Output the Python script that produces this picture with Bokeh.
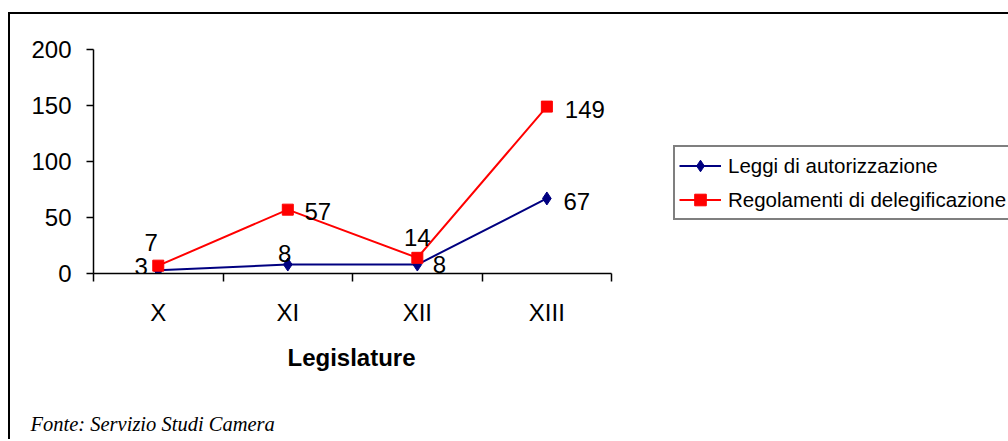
from bokeh.plotting import figure
from bokeh.models import (Range1d, FixedTicker, Legend, LegendItem, Title, ColumnDataSource)
from bokeh.core.properties import value
from bokeh.embed import file_html
from bokeh.resources import INLINE

# ---- data ----
legislature = ["X", "XI", "XII", "XIII"]
leggi_autorizzazione = [3, 8, 8, 67]
regolamenti_delegificazione = [7, 57, 14, 149]
y_ticks = [0, 50, 100, 150, 200]

# ---- label offsets (pixels, style only) ----
blue_dx = [-17, -3, 22, 30]
blue_dy = [-4, -11, 0, 3]
red_dx = [-7, 30, 0, 38]
red_dy = [-23, 2, -20, 3]

FONT = "Liberation Sans"
SERIF = "Liberation Serif"
n = len(legislature)
xs = [i + 0.5 for i in range(n)]

# layout: frame spans to right edge; the category axis occupies 517 px of 915 px
FRAME_W = 915
AXIS_W = 517
x_end = n * FRAME_W / AXIS_W

p = figure(width=998, height=425, output_backend="svg", toolbar_location=None,
           x_range=Range1d(0, x_end), y_range=Range1d(y_ticks[0], y_ticks[-1]),
           min_border_left=83, min_border_right=0, min_border_top=35,
           min_border_bottom=168, x_axis_location="below")
p.margin = (12, 0, 0, 8)
p.styles = {"border-top": "2px solid black", "border-left": "2px solid black",
            "box-sizing": "content-box"}
p.outline_line_color = None
p.grid.visible = False
p.background_fill_color = "white"
p.border_fill_color = "white"

# y axis
ya = p.yaxis[0]
ya.ticker = FixedTicker(ticks=y_ticks)
ya.major_tick_out = 7
ya.major_tick_in = 0
ya.minor_tick_line_color = None
ya.axis_line_color = "black"
ya.axis_line_width = 1.5
ya.major_tick_line_width = 1.5
ya.major_label_text_font = FONT
ya.major_label_text_font_size = "24px"
ya.major_label_text_color = "black"
ya.major_label_standoff = 15

# x axis (bounded to the categories)
xa = p.xaxis[0]
xa.bounds = (0, n)
xa.ticker = FixedTicker(ticks=xs, minor_ticks=list(range(n + 1)))
xa.major_label_overrides = {x: c for x, c in zip(xs, legislature)}
xa.major_tick_out = 0
xa.major_tick_in = 0
xa.major_tick_line_color = None
xa.minor_tick_out = 8
xa.minor_tick_in = 0
xa.minor_tick_line_color = "black"
xa.minor_tick_line_width = 1.5
xa.axis_line_color = "black"
xa.axis_line_width = 1.5
xa.major_label_text_font = FONT
xa.major_label_text_font_size = "24px"
xa.major_label_text_color = "black"
xa.major_label_standoff = 17

src = ColumnDataSource(dict(x=xs, a=leggi_autorizzazione, r=regolamenti_delegificazione,
                            at=[str(v) for v in leggi_autorizzazione],
                            rt=[str(v) for v in regolamenti_delegificazione],
                            bdx=blue_dx, bdy=blue_dy, rdx=red_dx, rdy=red_dy))

bl = p.line("x", "a", source=src, line_color="#000080", line_width=2)
bm = p.scatter("x", "a", source=src, marker="diamond", size=13,
               fill_color="#000080", line_color="#000080")
rl = p.line("x", "r", source=src, line_color="#FF0000", line_width=2)
rm = p.scatter("x", "r", source=src, marker="square", size=11,
               fill_color="#FF0000", line_color="#FF0000")

p.text("x", "a", text="at", source=src, x_offset="bdx", y_offset="bdy",
       text_align="center", text_baseline="middle", text_font=value(FONT),
       text_font_size="24px", text_color="black")
p.text("x", "r", text="rt", source=src, x_offset="rdx", y_offset="rdy",
       text_align="center", text_baseline="middle", text_font=value(FONT),
       text_font_size="24px", text_color="black")

legend = Legend(items=[LegendItem(label="Leggi di autorizzazione", renderers=[bl, bm]),
                       LegendItem(label="Regolamenti di delegificazione", renderers=[rl, rm])],
                location=(580, 53), margin=0, padding=4, spacing=5,
                glyph_width=42, glyph_height=29, label_height=29, label_standoff=7,
                label_text_font=FONT, label_text_font_size="20.5px", label_text_color="black",
                border_line_color="black", border_line_width=2,
                background_fill_color="white", background_fill_alpha=1)
p.add_layout(legend, "center")

# axis title, placed over the category part of the axis
axis_title = Title(text="Legislature", align="left", offset=194, standoff=31,
                   vertical_align="top", text_font=FONT, text_font_style="bold",
                   text_font_size="24px", text_color="black")
p.add_layout(axis_title, "below")
spacer = Title(text="\u00a0", align="left", standoff=21, vertical_align="top",
               text_font=FONT, text_font_size="1px")
p.add_layout(spacer, "below")
fonte = Title(text="Fonte: Servizio Studi Camera", align="left", offset=-63, standoff=0,
              vertical_align="top", text_font=SERIF, text_font_style="italic",
              text_font_size="20.5px", text_color="black")
p.add_layout(fonte, "below")

open("out.html", "w").write(file_html(p, INLINE))
